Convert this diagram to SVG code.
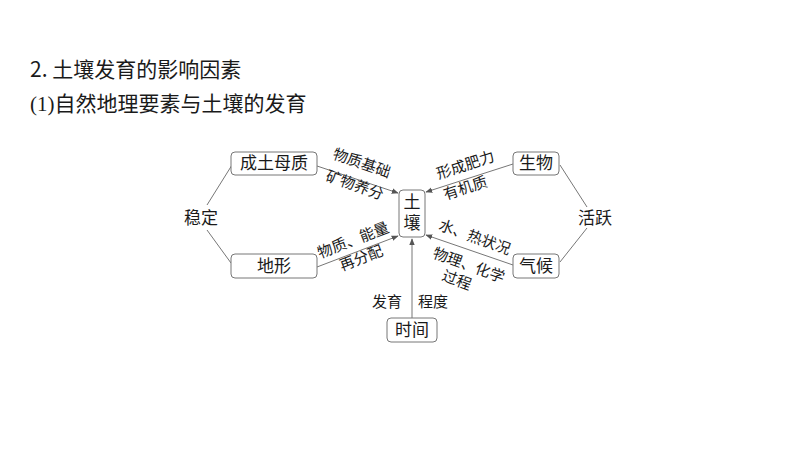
<svg xmlns="http://www.w3.org/2000/svg" width="800" height="450" viewBox="0 0 800 450">
<defs><marker id="ah" viewBox="0 0 10 10" refX="9" refY="5" markerWidth="7" markerHeight="7" orient="auto"><path d="M0,1 L10,5 L0,9 z" fill="#555"/></marker></defs>
<style>
text{font-family:"Liberation Serif","Noto Sans CJK SC",serif;fill:#1a1a1a}
.t{font-family:"Noto Sans CJK SC",sans-serif;font-size:21px}
.b{fill:#fff;stroke:#777;stroke-width:1}
.n{font-size:17px;text-anchor:middle}
.l{font-size:15px;text-anchor:middle}
.c{stroke:#777;stroke-width:1;fill:none}
</style>
<rect width="800" height="450" fill="#fff"/>
<text class="t" x="30" y="77">2. 土壤发育的影响因素</text>
<text class="t" x="30" y="111" style="font-family:'Liberation Serif','Noto Sans CJK SC',serif">(1)自然地理要素与土壤的发育</text>
<g id="connectors">
<path class="c" d="M317,166 L398,193" marker-end="url(#ah)"/>
<path class="c" d="M513,164 L426,192" marker-end="url(#ah)"/>
<path class="c" d="M317,267 L398,236" marker-end="url(#ah)"/>
<path class="c" d="M513,265 L426,235" marker-end="url(#ah)"/>
<path class="c" d="M412,318 L412,239" marker-end="url(#ah)"/>
<path class="c" d="M232,165 L207,205 M207,230 L231,263 M560,165 L587,207 M587,228 L560,262"/>
<text class="l" transform="translate(360,168) rotate(19)">物质基础</text>
<text class="l" transform="translate(353,190) rotate(19)">矿物养分</text>
<text class="l" transform="translate(467,170) rotate(-18)">形成肥力</text>
<text class="l" transform="translate(467,193) rotate(-18)">有机质</text>
<text class="l" transform="translate(355,245) rotate(-21)">物质、能量</text>
<text class="l" transform="translate(363,263) rotate(-21)">再分配</text>
<text class="l" transform="translate(473,242) rotate(20)">水、热状况</text>
<text class="l" transform="translate(467,270) rotate(20)">物理、化学</text>
<text class="l" transform="translate(455,285) rotate(20)">过程</text>
<text class="l" x="387" y="307">发育</text>
<text class="l" x="433" y="307">程度</text>
<text class="n" x="201" y="224">稳定</text>
<text class="n" x="595" y="224">活跃</text>
</g>
<g id="n1"><rect class="b" x="231" y="152" width="86" height="23" rx="4"/><text class="n" x="274" y="169">成土母质</text></g>
<g id="n2"><rect class="b" x="513" y="152" width="46" height="23" rx="4"/><text class="n" x="536" y="169">生物</text></g>
<g id="n3"><rect class="b" x="399" y="190" width="26" height="47" rx="4"/><text class="n" x="412" y="208">土</text><text class="n" x="412" y="229">壤</text></g>
<g id="n4"><rect class="b" x="231" y="254" width="86" height="24" rx="4"/><text class="n" x="274" y="272">地形</text></g>
<g id="n5"><rect class="b" x="513" y="254" width="46" height="24" rx="4"/><text class="n" x="536" y="272">气候</text></g>
<g id="n6"><rect class="b" x="387" y="318" width="50" height="24" rx="4"/><text class="n" x="412" y="336">时间</text></g>
</svg>
